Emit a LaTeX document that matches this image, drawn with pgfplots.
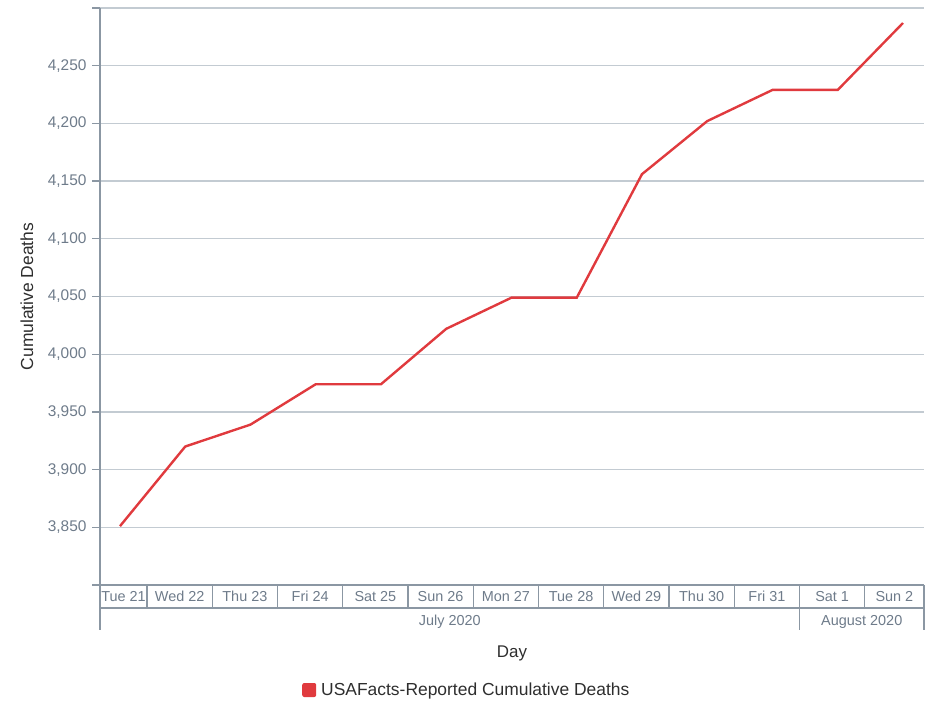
\documentclass[border=0pt]{standalone}
\usepackage{fontspec}
\setmainfont{Liberation Sans}
\usepackage{pgfplots}
\pgfplotsset{compat=1.18}
\definecolor{linered}{HTML}{E03A3E}
\definecolor{tickgray}{HTML}{6E7B8A}
\definecolor{axgray}{HTML}{8B97A3}
\definecolor{gridgray}{HTML}{C3CBD2}
\definecolor{labtext}{HTML}{2E2E2E}
\begin{document}
\begin{tikzpicture}
\tikzset{
  axline/.style={draw=axgray, line width=1.2bp},
  daylab/.style={font=\fontsize{14.5}{16}\selectfont, text=tickgray, anchor=center, inner sep=0pt},
}
\begin{axis}[
  scale only axis,
  width=824bp, height=577bp,
  xmin=-0.3065, xmax=12.322,
  ymin=3800, ymax=4300,
  axis lines*=left,
  axis line style={draw=axgray, line width=1.2bp},
  xtick=\empty,
  ytick={3800,3850,...,4300},
  yticklabels={{},{3,850},{3,900},{3,950},{4,000},{4,050},{4,100},{4,150},{4,200},{4,250},{}},
  tick align=outside,
  major tick length=8bp,
  major tick style={draw=axgray, line width=1.2bp},
  ymajorgrids,
  major grid style={draw=gridgray, line width=1.2bp},
  yticklabel style={font=\fontsize{15.5}{17}\selectfont, text=tickgray, xshift=-2bp},
  clip=false,
  legend style={at={(axis cs:2.79,3800)}, anchor=west, yshift=-105bp, draw=none, fill=none,
    font=\fontsize{17.5}{19}\selectfont, text=labtext, inner sep=0pt},
  legend image code/.code={\fill[linered, draw=none, rounded corners=2bp] (0bp,-7bp) rectangle (14bp,7bp);
    \path[draw=none, fill=none] (0bp,0bp) rectangle (17bp,0.1bp);},
]
\addplot[color=linered, line width=2.4bp] coordinates {
(0,3851) (1,3920) (2,3939) (3,3974) (4,3974) (5,4022) (6,4049)
(7,4049) (8,4156) (9,4202) (10,4229) (11,4229) (12,4287)
};
\addlegendentry{USAFacts-Reported Cumulative Deaths}

% category table below the axis
\draw[axline] ([yshift=-23bp]axis cs:-0.3065,3800) -- ([yshift=-23bp]axis cs:12.322,3800);
\draw[axline] (axis cs:-0.3065,3800) -- ([yshift=-45bp]axis cs:-0.3065,3800);
\draw[axline] (axis cs:12.322,3800) -- ([yshift=-45bp]axis cs:12.322,3800);
\draw[axline] (axis cs:10.414,3800) -- ([yshift=-45bp]axis cs:10.414,3800);
\pgfplotsinvokeforeach{0,...,9}{
  \draw[axline] (axis cs:#1.414,3800) -- ([yshift=-23bp]axis cs:#1.414,3800);
}
\draw[axline] (axis cs:11.414,3800) -- ([yshift=-23bp]axis cs:11.414,3800);

\node[daylab] at ([yshift=-11.5bp]axis cs:0.054,3800) {Tue 21};
\node[daylab] at ([yshift=-11.5bp]axis cs:0.914,3800) {Wed 22};
\node[daylab] at ([yshift=-11.5bp]axis cs:1.914,3800) {Thu 23};
\node[daylab] at ([yshift=-11.5bp]axis cs:2.914,3800) {Fri 24};
\node[daylab] at ([yshift=-11.5bp]axis cs:3.914,3800) {Sat 25};
\node[daylab] at ([yshift=-11.5bp]axis cs:4.914,3800) {Sun 26};
\node[daylab] at ([yshift=-11.5bp]axis cs:5.914,3800) {Mon 27};
\node[daylab] at ([yshift=-11.5bp]axis cs:6.914,3800) {Tue 28};
\node[daylab] at ([yshift=-11.5bp]axis cs:7.914,3800) {Wed 29};
\node[daylab] at ([yshift=-11.5bp]axis cs:8.914,3800) {Thu 30};
\node[daylab] at ([yshift=-11.5bp]axis cs:9.914,3800) {Fri 31};
\node[daylab] at ([yshift=-11.5bp]axis cs:10.914,3800) {Sat 1};
\node[daylab] at ([yshift=-11.5bp]axis cs:11.868,3800) {Sun 2};

\node[daylab] at ([yshift=-37bp]axis cs:5.054,3800) {July 2020};
\node[daylab] at ([yshift=-37bp]axis cs:11.368,3800) {August 2020};

\node[font=\fontsize{17}{19}\selectfont, text=labtext, inner sep=0pt] at ([yshift=-68bp]axis cs:6.008,3800) {Day};
\node[font=\fontsize{17.5}{19}\selectfont, text=labtext, inner sep=0pt, rotate=90] at ([xshift=-73bp]axis cs:-0.3065,4050) {Cumulative Deaths};
\end{axis}
\pgfresetboundingbox
\path ([shift={(-100bp,-121bp)}]current axis.south west) rectangle ([shift={(12bp,8bp)}]current axis.north east);
\end{tikzpicture}
\end{document}
